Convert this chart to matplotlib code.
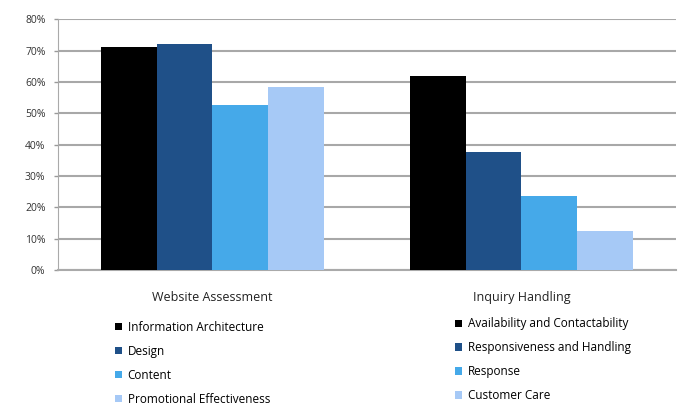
import numpy as np
import matplotlib.pyplot as plt
from matplotlib.patches import Patch

# data
groups = ['Website Assessment', 'Inquiry Handling']
wa_labels = ['Information Architecture', 'Design', 'Content', 'Promotional Effectiveness']
ih_labels = ['Availability and Contactability', 'Responsiveness and Handling', 'Response', 'Customer Care']
wa_values = [71, 72, 52.5, 58.5]
ih_values = [62, 37.5, 23.5, 12.5]
colors = ['#000000', '#1f5088', '#45a9e9', '#a6c9f6']

plt.rcParams['font.family'] = ['Open Sans', 'DejaVu Sans']

fig = plt.figure(figsize=(6.79, 4.08), dpi=100)
ax = fig.add_axes([0.0854, 0.338, 0.91, 0.615])

x = np.arange(len(groups))
w = 0.18
for i in range(4):
    vals = [wa_values[i], ih_values[i]]
    ax.bar(x + (i - 1.5) * w, vals, width=w, color=colors[i], zorder=3)

ax.set_xlim(-0.5, 1.5)
ax.set_ylim(0, 80)
ax.set_yticks(np.arange(0, 81, 10))
ax.set_yticklabels([f'{v}%' for v in range(0, 81, 10)], fontsize=7.5, color='#333333')
ax.set_xticks(x)
ax.set_xticklabels(groups, fontsize=9, color='#222222')
ax.tick_params(axis='x', length=0, pad=15)
ax.tick_params(axis='y', length=3, color='#999999', width=1, pad=6)
ax.grid(axis='y', color='#a8a8a8', linewidth=1.5, zorder=0)
for s in ['top', 'right']:
    ax.spines[s].set_visible(False)
ax.spines['left'].set_color('#aaaaaa')
ax.spines['bottom'].set_color('#aaaaaa')
ax.spines['bottom'].set_linewidth(1.5)

h1 = [Patch(facecolor=c, edgecolor='none') for c in colors]
leg_kw = dict(loc='upper left', frameon=False, fontsize=8.5, handlelength=0.6,
              handleheight=0.6, handletextpad=0.5, labelspacing=0.93,
              borderaxespad=0, borderpad=0)
leg1 = fig.legend(h1, wa_labels, bbox_to_anchor=(0.169, 0.214), **leg_kw)
leg2 = fig.legend(h1, ih_labels, bbox_to_anchor=(0.670, 0.222), **leg_kw)

fig.savefig('out.png', dpi=100)
